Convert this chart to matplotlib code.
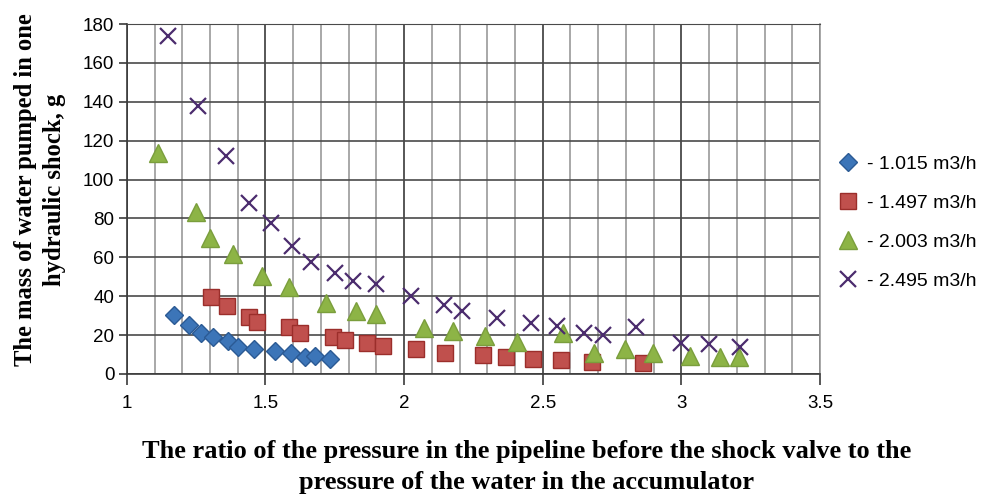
import matplotlib.pyplot as plt
from matplotlib.ticker import MultipleLocator

# series 1.015 m3/h
x1 = [1.171, 1.225, 1.267, 1.309, 1.365, 1.401, 1.459, 1.534, 1.591, 1.644, 1.680, 1.734]
y1 = [30.2, 25.2, 20.9, 18.9, 17.1, 14.0, 12.9, 12.0, 11.0, 8.6, 9.3, 7.6]

# series 1.497 m3/h
x2 = [1.302, 1.362, 1.440, 1.471, 1.584, 1.624, 1.742, 1.786, 1.867, 1.922, 2.042,
      2.148, 2.285, 2.367, 2.463, 2.567, 2.676, 2.860]
y2 = [39.8, 35.0, 29.5, 26.9, 24.3, 20.9, 19.2, 17.5, 15.8, 14.4, 12.9,
      11.0, 9.8, 8.6, 7.7, 7.2, 6.3, 5.5]

# series 2.003 m3/h
x3 = [1.111, 1.249, 1.299, 1.383, 1.486, 1.584, 1.718, 1.826, 1.897, 2.072, 2.178,
      2.291, 2.408, 2.574, 2.685, 2.798, 2.898, 3.030, 3.138, 3.208]
y3 = [113.5, 83.5, 69.8, 61.7, 50.4, 44.6, 36.4, 32.4, 30.7, 23.5, 22.2,
      19.7, 16.6, 20.9, 10.6, 12.9, 10.6, 9.4, 8.6, 8.6]

# series 2.495 m3/h
x4 = [1.147, 1.255, 1.357, 1.440, 1.519, 1.594, 1.664, 1.750, 1.816, 1.900, 2.024,
      2.143, 2.210, 2.336, 2.457, 2.550, 2.648, 2.718, 2.838, 3.000, 3.100, 3.211]
y4 = [174.0, 137.9, 112.1, 88.1, 77.8, 66.0, 57.8, 52.1, 47.8, 46.1, 40.1,
      35.5, 32.5, 29.0, 26.1, 24.9, 21.3, 20.1, 24.0, 15.8, 15.3, 14.0]

labels = ["- 1.015 m3/h", "- 1.497 m3/h", "- 2.003 m3/h", "- 2.495 m3/h"]

fig = plt.figure(figsize=(9.91, 4.97), dpi=100)
ax = fig.add_axes([0.128, 0.2475, 0.6995, 0.7042])

ax.plot(x1, y1, "D", ms=9, color="#3C75B8", mec="#2B5A94", mew=1, label=labels[0], zorder=3)
ax.plot(x2, y2, "s", ms=12, color="#C0504D", mec="#9B2E2B", mew=1, label=labels[1], zorder=3)
ax.plot(x3, y3, "^", ms=13, color="#8DB446", mec="#7A9E3C", mew=1, label=labels[2], zorder=3)
ax.plot(x4, y4, "x", ms=11.5, color="#4B2C6E", mew=1.6, label=labels[3], zorder=3)

ax.set_xlim(1, 3.5)
ax.set_ylim(0, 180)
ax.xaxis.set_major_locator(MultipleLocator(0.5))
ax.xaxis.set_minor_locator(MultipleLocator(0.1))
ax.yaxis.set_major_locator(MultipleLocator(20))
ax.xaxis.set_major_formatter(lambda v, p: f"{v:g}")
ax.grid(True, which="major", axis="x", color="#3a3a3a", lw=1.2)
ax.grid(True, which="minor", axis="x", color="#9a9a9a", lw=1.2)
ax.grid(True, which="major", axis="y", color="#4a4a4a", lw=1.2)
ax.tick_params(axis="x", which="major", length=8, width=1.2, color="#3a3a3a", direction="out", pad=7)
ax.tick_params(axis="x", which="minor", length=0)
ax.tick_params(axis="y", length=6, width=1.2, color="#3a3a3a", pad=3)
for lab in ax.get_xticklabels() + ax.get_yticklabels():
    lab.set_fontfamily("Liberation Sans")
    lab.set_fontsize(13.5)
for s in ["left", "bottom"]:
    ax.spines[s].set_color("#3a3a3a")
    ax.spines[s].set_linewidth(1.2)
ax.spines["top"].set_color("#4a4a4a")
ax.spines["right"].set_color("#9a9a9a")
ax.spines["right"].set_linewidth(1.2)
ax.set_axisbelow(True)

ax.set_xlabel("The ratio of the pressure in the pipeline before the shock valve to the\npressure of the water in the accumulator",
              fontfamily="Liberation Serif", fontweight="bold", fontsize=19, linespacing=1.4)
ax.xaxis.set_label_coords(0.577, -0.19)
ax.set_ylabel("The mass of water pumped in one\nhydraulic shock, g",
              fontfamily="Liberation Serif", fontweight="bold", fontsize=17.7, linespacing=1.3)
ax.yaxis.set_label_coords(-0.088, 0.526)

fig.legend(loc="upper left", bbox_to_anchor=(0.826, 0.722), frameon=False,
           prop={"family": "Liberation Sans", "size": 14}, labelspacing=1.1,
           handletextpad=0.4, handlelength=1.2)

plt.savefig("out.png")
